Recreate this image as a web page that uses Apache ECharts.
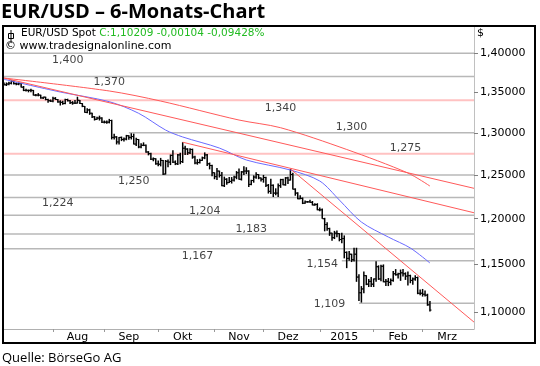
<!DOCTYPE html>
<html><head><meta charset="utf-8">
<script src="https://cdn.jsdelivr.net/npm/echarts@6/dist/echarts.min.js"></script>
<style>html,body{margin:0;padding:0;background:#fff}#c{width:540px;height:366px}</style>
</head><body><div id="c"></div>
<script>
// Daily bars per month: [day, open, high, low, close]
const jul14 = [
[4,1.3610,1.3625,1.3590,1.3595],[7,1.3595,1.3625,1.3580,1.3605],[8,1.3605,1.3635,1.3590,1.3615],
[9,1.3615,1.3650,1.3600,1.3640],[10,1.3640,1.3650,1.3600,1.3610],[11,1.3610,1.3625,1.3590,1.3605],
[14,1.3605,1.3625,1.3590,1.3610],[15,1.3610,1.3620,1.3560,1.3565],[16,1.3565,1.3580,1.3515,1.3525],
[17,1.3525,1.3545,1.3510,1.3525],[18,1.3525,1.3535,1.3500,1.3525],[21,1.3525,1.3545,1.3500,1.3525],
[22,1.3525,1.3530,1.3460,1.3465],[23,1.3465,1.3480,1.3450,1.3465],[24,1.3465,1.3490,1.3450,1.3465],
[25,1.3465,1.3470,1.3420,1.3430],[28,1.3430,1.3445,1.3415,1.3440],[29,1.3440,1.3445,1.3400,1.3410],
[30,1.3410,1.3420,1.3370,1.3395],[31,1.3395,1.3410,1.3380,1.3390]];
const aug14 = [
[1,1.3390,1.3445,1.3375,1.3425],[4,1.3425,1.3440,1.3405,1.3410],[5,1.3410,1.3415,1.3370,1.3380],
[6,1.3380,1.3400,1.3335,1.3375],[7,1.3375,1.3395,1.3345,1.3360],[8,1.3360,1.3420,1.3350,1.3410],
[11,1.3410,1.3420,1.3385,1.3395],[12,1.3395,1.3405,1.3355,1.3370],[13,1.3370,1.3390,1.3345,1.3365],
[14,1.3365,1.3405,1.3355,1.3365],[15,1.3365,1.3445,1.3360,1.3400],[18,1.3400,1.3405,1.3355,1.3360],
[19,1.3360,1.3365,1.3315,1.3325],[20,1.3325,1.3330,1.3245,1.3250],[21,1.3250,1.3300,1.3240,1.3280],
[22,1.3280,1.3295,1.3220,1.3240],[25,1.3240,1.3245,1.3180,1.3195],[26,1.3195,1.3205,1.3150,1.3165],
[27,1.3165,1.3195,1.3160,1.3180],[28,1.3180,1.3210,1.3150,1.3180],[29,1.3180,1.3190,1.3120,1.3130]];
const sep14 = [
[1,1.3130,1.3150,1.3115,1.3130],[2,1.3130,1.3150,1.3110,1.3130],[3,1.3130,1.3170,1.3115,1.3150],
[4,1.3150,1.3160,1.2920,1.2945],[5,1.2945,1.2990,1.2920,1.2950],[8,1.2950,1.2960,1.2860,1.2890],
[9,1.2890,1.2950,1.2860,1.2945],[10,1.2945,1.2955,1.2900,1.2920],[11,1.2920,1.2945,1.2895,1.2925],
[12,1.2925,1.2975,1.2910,1.2965],[15,1.2965,1.2970,1.2915,1.2945],[16,1.2945,1.2995,1.2920,1.2955],
[17,1.2955,1.2990,1.2860,1.2865],[18,1.2865,1.2940,1.2840,1.2920],[19,1.2920,1.2925,1.2815,1.2830],
[22,1.2830,1.2875,1.2815,1.2850],[23,1.2850,1.2885,1.2840,1.2850],[24,1.2850,1.2860,1.2760,1.2770],
[25,1.2770,1.2780,1.2730,1.2750],[26,1.2750,1.2760,1.2675,1.2685],[29,1.2685,1.2705,1.2660,1.2690],
[30,1.2690,1.2695,1.2620,1.2630]];
const oct14 = [
[1,1.2630,1.2670,1.2600,1.2625],[2,1.2625,1.2700,1.2600,1.2670],[3,1.2670,1.2675,1.2500,1.2510],
[6,1.2510,1.2675,1.2505,1.2660],[7,1.2660,1.2680,1.2590,1.2650],[8,1.2650,1.2740,1.2615,1.2730],
[9,1.2730,1.2790,1.2640,1.2650],[10,1.2650,1.2670,1.2615,1.2630],[13,1.2630,1.2745,1.2615,1.2735],
[14,1.2735,1.2760,1.2625,1.2655],[15,1.2655,1.2887,1.2640,1.2815],[16,1.2815,1.2845,1.2735,1.2805],
[17,1.2805,1.2815,1.2735,1.2760],[20,1.2760,1.2815,1.2745,1.2800],[21,1.2800,1.2810,1.2690,1.2710],
[22,1.2710,1.2725,1.2625,1.2640],[23,1.2640,1.2685,1.2620,1.2645],[24,1.2645,1.2690,1.2635,1.2670],
[27,1.2670,1.2715,1.2665,1.2700],[28,1.2700,1.2765,1.2685,1.2735],[29,1.2735,1.2745,1.2605,1.2630],
[30,1.2630,1.2645,1.2565,1.2610],[31,1.2610,1.2620,1.2485,1.2525]];
const nov14 = [
[3,1.2525,1.2530,1.2450,1.2480],[4,1.2480,1.2580,1.2440,1.2545],[5,1.2545,1.2550,1.2470,1.2495],
[6,1.2495,1.2535,1.2370,1.2375],[7,1.2375,1.2480,1.2360,1.2450],[10,1.2450,1.2460,1.2385,1.2410],
[11,1.2410,1.2475,1.2405,1.2425],[12,1.2425,1.2475,1.2400,1.2440],[13,1.2440,1.2490,1.2425,1.2475],
[14,1.2475,1.2545,1.2450,1.2525],[17,1.2525,1.2575,1.2445,1.2450],[18,1.2450,1.2545,1.2435,1.2535],
[19,1.2535,1.2600,1.2500,1.2545],[20,1.2545,1.2590,1.2510,1.2545],[21,1.2545,1.2555,1.2360,1.2390],
[24,1.2390,1.2445,1.2380,1.2435],[25,1.2435,1.2495,1.2410,1.2475],[26,1.2475,1.2530,1.2455,1.2505],
[27,1.2505,1.2510,1.2450,1.2465],[28,1.2465,1.2470,1.2425,1.2450]];
const dec14 = [
[1,1.2450,1.2500,1.2410,1.2470],[2,1.2470,1.2480,1.2360,1.2380],[3,1.2380,1.2395,1.2285,1.2310],
[4,1.2310,1.2455,1.2280,1.2380],[5,1.2380,1.2390,1.2245,1.2290],[8,1.2290,1.2345,1.2265,1.2290],
[9,1.2290,1.2400,1.2245,1.2375],[10,1.2375,1.2455,1.2350,1.2445],[11,1.2445,1.2455,1.2380,1.2385],
[12,1.2385,1.2475,1.2375,1.2465],[15,1.2465,1.2480,1.2395,1.2440],[16,1.2440,1.2570,1.2435,1.2505],
[17,1.2505,1.2525,1.2330,1.2335],[18,1.2335,1.2345,1.2260,1.2290],[19,1.2290,1.2300,1.2220,1.2225],
[22,1.2225,1.2265,1.2220,1.2230],[23,1.2230,1.2240,1.2165,1.2175],[24,1.2175,1.2205,1.2170,1.2190],
[25,1.2190,1.2200,1.2180,1.2190],[26,1.2190,1.2215,1.2180,1.2185],[29,1.2185,1.2200,1.2150,1.2155],
[30,1.2155,1.2175,1.2145,1.2160],[31,1.2160,1.2175,1.2095,1.2100]];
const jan15 = [
[1,1.2100,1.2125,1.2085,1.2100],[2,1.2100,1.2115,1.2000,1.2000],[5,1.2000,1.2010,1.1860,1.1935],
[6,1.1935,1.1960,1.1865,1.1890],[7,1.1890,1.1900,1.1810,1.1840],[8,1.1840,1.1845,1.1755,1.1790],
[9,1.1790,1.1865,1.1775,1.1840],[12,1.1840,1.1870,1.1795,1.1835],[13,1.1835,1.1840,1.1750,1.1770],
[14,1.1770,1.1845,1.1730,1.1780],[15,1.1780,1.1815,1.1565,1.1630],[16,1.1630,1.1640,1.1460,1.1565],
[19,1.1565,1.1645,1.1540,1.1610],[20,1.1610,1.1615,1.1525,1.1550],[21,1.1550,1.1680,1.1530,1.1610],
[22,1.1610,1.1680,1.1315,1.1365],[23,1.1365,1.1395,1.1115,1.1200],[26,1.1200,1.1270,1.1098,1.1240],
[27,1.1240,1.1425,1.1195,1.1380],[28,1.1380,1.1385,1.1280,1.1290],[29,1.1290,1.1345,1.1260,1.1320],
[30,1.1320,1.1365,1.1260,1.1290]];
const feb15 = [
[2,1.1290,1.1350,1.1260,1.1345],[3,1.1345,1.1535,1.1315,1.1475],[4,1.1475,1.1490,1.1335,1.1345],
[5,1.1345,1.1495,1.1320,1.1480],[6,1.1480,1.1500,1.1310,1.1315],[9,1.1315,1.1345,1.1270,1.1320],
[10,1.1320,1.1355,1.1270,1.1310],[11,1.1310,1.1350,1.1280,1.1330],[12,1.1330,1.1430,1.1315,1.1400],
[13,1.1400,1.1450,1.1380,1.1390],[16,1.1390,1.1410,1.1350,1.1400],[17,1.1400,1.1445,1.1325,1.1410],
[18,1.1410,1.1450,1.1370,1.1400],[19,1.1400,1.1415,1.1335,1.1375],[20,1.1375,1.1425,1.1275,1.1380],
[23,1.1380,1.1390,1.1300,1.1330],[24,1.1330,1.1360,1.1285,1.1345],[25,1.1345,1.1385,1.1325,1.1360],
[26,1.1360,1.1370,1.1185,1.1195],[27,1.1195,1.1235,1.1175,1.1195]];
const mar15 = [
[2,1.1195,1.1240,1.1160,1.1185],[3,1.1185,1.1225,1.1160,1.1175],[4,1.1175,1.1190,1.1065,1.1075],
[5,1.1075,1.1115,1.1005,1.10209]];
// empty trading days to the right edge
const marFutureDays = [6,9,10,11,12,13,16,17,18,19,20,23,24,25,26,27,30,31];

// Moving averages: [date, value]
const ma50 = [
['2014-07-04',1.3665],['2014-08-06',1.3504],['2014-09-03',1.3383],['2014-09-19',1.3239],
['2014-10-06',1.3034],['2014-10-15',1.2950],['2014-11-05',1.2817],['2014-11-20',1.2675],
['2014-12-16',1.2557],['2015-01-01',1.2429],['2015-01-13',1.2211],['2015-01-26',1.1963],
['2015-02-10',1.1797],['2015-02-23',1.1677],['2015-03-05',1.1515]];
const ma200 = [
['2014-07-04',1.3681],['2014-09-03',1.3517],['2014-10-02',1.3391],['2014-11-17',1.3156],
['2014-12-10',1.3062],['2015-01-16',1.2800],['2015-02-20',1.2522],['2015-03-05',1.2371]];

// Trend lines: [date, price] endpoints
const trendJul = [['2014-07-04',1.3681],['2015-03-31',1.2345]];
const trendOct = [['2014-10-15',1.2887],['2015-03-31',1.2067]];
const trendDec = [['2014-12-16',1.2570],['2015-03-31',1.0898]];

// Support / resistance levels
const srLevels = [1.400,1.370,1.340,1.300,1.275,1.250,1.224,1.204,1.183,1.167,1.154,1.109];
const srPink   = [false,false,true,false,true,false,false,false,false,false,false,false];
const srStart  = [null,null,null,'2014-09-15',null,null,null,null,null,null,'2015-01-14','2015-01-23'];
const srLabelDate = ['2014-08-11','2014-09-03','2014-12-10','2015-01-20','2015-02-19','2014-09-17',
                     '2014-08-05','2014-10-28','2014-11-24','2014-10-23','2015-01-02','2015-01-07'];
const srLabelDy = [7,6,7.5,-6,-6,6,6,-4.5,-5,7,3.5,1];

// Axis ticks / labels
const yTicks = [1.10,1.15,1.20,1.25,1.30,1.35,1.40];
const monthTickDates = ['2014-08-01','2014-09-01','2014-10-01','2014-11-03','2014-12-01','2015-01-01','2015-02-02','2015-03-02'];
const monthLabelDates = ['2014-08-15','2014-09-15','2014-10-15','2014-11-17','2014-12-15','2015-01-15','2015-02-16','2015-03-16'];
const monthLabelTexts = ['Aug','Sep','Okt','Nov','Dez','2015','Feb','Mrz'];

const pad = n => (n < 10 ? '0' : '') + n;
const months = [['2014-07',jul14],['2014-08',aug14],['2014-09',sep14],['2014-10',oct14],['2014-11',nov14],
                ['2014-12',dec14],['2015-01',jan15],['2015-02',feb15],['2015-03',mar15]];
const cats = [], ohlc = [];
months.forEach(([ym, rows]) => rows.forEach(r => {
  const d = ym + '-' + pad(r[0]); cats.push(d); ohlc.push([d, r[1], r[2], r[3], r[4]]);
}));
marFutureDays.forEach(d => cats.push('2015-03-' + pad(d)));
const lastCat = cats[cats.length - 1];
const comma = (v, n) => v.toFixed(n).replace('.', ',');

const FONT = 'DejaVu Sans';
const series = [];

// S/R lines
srLevels.forEach((lv, i) => {
  series.push({
    type: 'line', silent: true, symbol: 'none', z: 1, animation: false,
    data: [[srStart[i] || cats[0], lv], [lastCat, lv]],
    lineStyle: { color: srPink[i] ? '#ffc2c2' : '#b8b8b8', width: srPink[i] ? 2 : 1.5 }
  });
});
// S/R labels
series.push({
  type: 'scatter', silent: true, z: 5, symbolSize: 1, animation: false,
  itemStyle: { color: 'rgba(0,0,0,0)' },
  data: srLevels.map((lv, i) => ({
    value: [srLabelDate[i], lv],
    label: { show: true, position: 'inside', offset: [0, srLabelDy[i]], formatter: comma(lv, 3),
             fontFamily: FONT, fontSize: 11, color: '#111' }
  }))
});
// OHLC bars
series.push({
  type: 'custom', z: 3, animation: false, silent: true,
  encode: { x: 0, y: [1, 2, 3, 4] },
  data: ohlc,
  renderItem: function (params, api) {
    const x0 = api.value(0);
    const o = api.coord([x0, api.value(1)]);
    const h = api.coord([x0, api.value(2)]);
    const l = api.coord([x0, api.value(3)]);
    const c = api.coord([x0, api.value(4)]);
    const x = h[0];
    return { type: 'group', children: [
      { type: 'line', shape: { x1: x, y1: h[1], x2: x, y2: l[1] }, style: { stroke: '#000', lineWidth: 1.5 } },
      { type: 'line', shape: { x1: x - 1.6, y1: o[1], x2: x, y2: o[1] }, style: { stroke: '#000', lineWidth: 1 } },
      { type: 'line', shape: { x1: x, y1: c[1], x2: x + 1.6, y2: c[1] }, style: { stroke: '#000', lineWidth: 1 } }
    ]};
  }
});
// MAs
series.push({ type: 'line', data: ma50, smooth: 0.3, symbol: 'none', silent: true, z: 4, animation: false,
  lineStyle: { color: '#6a6aff', width: 1 } });
series.push({ type: 'line', data: ma200, smooth: 0.3, symbol: 'none', silent: true, z: 4, animation: false,
  lineStyle: { color: '#ff5a5a', width: 1 } });
// Trend lines
[trendJul, trendOct, trendDec].forEach(t => series.push({
  type: 'line', data: t, symbol: 'none', silent: true, z: 4, animation: false,
  lineStyle: { color: '#ff5a5a', width: 1 }
}));

const chart = echarts.init(document.getElementById('c'), null, { renderer: 'canvas' });
chart.setOption({
  backgroundColor: '#fff',
  animation: false,
  title: [
    { text: 'EUR/USD – 6-Monats-Chart', left: 1, top: 2.5, padding: 0,
      textStyle: { fontFamily: 'Open Sans', fontWeight: 'bold', fontSize: 20, color: '#000' } },
    { text: 'Quelle: BörseGo AG', left: 2, top: 352, padding: 0,
      textStyle: { fontFamily: 'Open Sans', fontWeight: 'normal', fontSize: 13, color: '#000' } }
  ],
  grid: { left: 4, right: 66, top: 26, bottom: 37 },
  xAxis: {
    type: 'category', data: cats, boundaryGap: false,
    axisLine: { show: true, lineStyle: { color: '#b0b0b0', width: 1 } },
    axisTick: { show: true, interval: (i, v) => monthTickDates.indexOf(v) >= 0, length: 3,
                lineStyle: { color: '#999' } },
    axisLabel: { interval: (i, v) => monthLabelDates.indexOf(v) >= 0,
                 formatter: v => monthLabelTexts[monthLabelDates.indexOf(v)] || '',
                 fontFamily: FONT, fontSize: 11, color: '#000', margin: 3 },
    splitLine: { show: false }
  },
  yAxis: {
    type: 'log', logBase: 10, min: 1.08282, max: 1.43608, position: 'right',
    axisLine: { show: true, lineStyle: { color: '#c0c0c0', width: 1 } },
    axisTick: { show: true, customValues: yTicks, length: 4, lineStyle: { color: '#808080' } },
    axisLabel: { customValues: yTicks, formatter: v => comma(v, 5), fontFamily: FONT, fontSize: 11,
                 color: '#000', margin: 6 },
    splitLine: { show: false }
  },
  graphic: [
    { type: 'rect', shape: { x: 3, y: 26, width: 532, height: 317 }, z: 100,
      style: { fill: 'none', stroke: '#000', lineWidth: 2 } },
    { type: 'rect', shape: { x: 8.5, y: 33.5, width: 5, height: 5 }, z: 100,
      style: { fill: '#fff', stroke: '#000', lineWidth: 1 } },
    { type: 'line', shape: { x1: 11, y1: 30, x2: 11, y2: 42 }, z: 100, style: { stroke: '#000', lineWidth: 1 } },
    { type: 'text', x: 21, y: 33.5, z: 100,
      style: { text: '{k|EUR/USD Spot} {g|C:1,10209 -0,00104 -0,09428%}', verticalAlign: 'middle',
               rich: { k: { fontFamily: FONT, fontSize: 10.5, fill: '#000' },
                       g: { fontFamily: FONT, fontSize: 10.5, fill: '#22bb22' } } } },
    { type: 'text', x: 5, y: 46, z: 100,
      style: { text: '© www.tradesignalonline.com', verticalAlign: 'middle', fontFamily: FONT, fontSize: 11, fill: '#000' } },
    { type: 'text', x: 477, y: 33.5, z: 100,
      style: { text: '$', verticalAlign: 'middle', fontFamily: FONT, fontSize: 11, fill: '#000' } }
  ],
  series: series
});
</script></body></html>
